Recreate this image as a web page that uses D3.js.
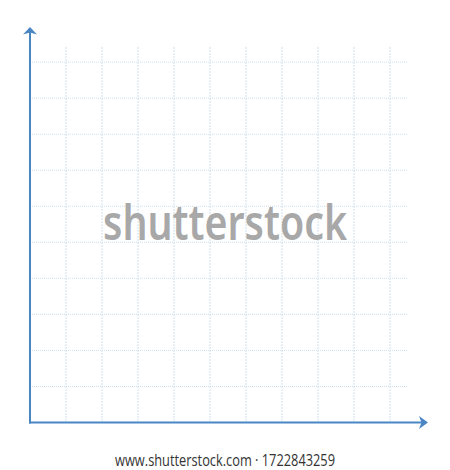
<!DOCTYPE html>
<html>
<head>
<meta charset="utf-8">
<script src="https://cdn.jsdelivr.net/npm/d3@7"></script>
<style>
  html, body { margin: 0; padding: 0; background: #fff; }
</style>
</head>
<body>
<svg id="chart" width="450" height="470"></svg>
<script>
const xTicks = [1, 2, 3, 4, 5, 6, 7, 8, 9, 10];
const yTicks = [1, 2, 3, 4, 5, 6, 7, 8, 9, 10];
const xDomain = [0, 10.5];
const yDomain = [0, 10.42];
const watermark = 'shutterstock';
const footer = 'www.shutterstock.com \u00b7 1722843259';

const svg = d3.select('#chart');
const axisColor = '#4a86c4';
const gridColor = '#cfdfee';

let x = d3.scaleLinear().domain(xDomain).range([30, 408]);
let y = d3.scaleLinear().domain(yDomain).range([422.5, 47]);

// grid
let grid = svg.append('g')
    .attr('stroke', gridColor)
    .attr('stroke-width', 1);

grid.selectAll('line.v')
    .data(xTicks)
    .join('line')
    .attr('class', 'v')
    .attr('stroke-dasharray', '2,1')
    .attr('x1', d => x(d)).attr('x2', d => x(d))
    .attr('y1', y(yDomain[1])).attr('y2', y(0));

grid.selectAll('line.h')
    .data(yTicks)
    .join('line')
    .attr('class', 'h')
    .attr('stroke-dasharray', '1,1')
    .attr('y1', d => y(d)).attr('y2', d => y(d))
    .attr('x1', x(0)).attr('x2', x(xDomain[1]));

// watermark
svg.append('text')
    .attr('x', 103)
    .attr('y', 240)
    .attr('textLength', 244)
    .attr('lengthAdjust', 'spacingAndGlyphs')
    .style('font-family', 'Noto Sans, Open Sans, sans-serif')
    .style('font-weight', 600)
    .style('font-size', '48px')
    .style('fill', '#a8a8a8')
    .text(watermark);

// axes
let ax = svg.append('g').attr('stroke', axisColor).attr('stroke-width', 2).attr('fill', 'none');
ax.append('line')
    .attr('x1', x(0)).attr('x2', x(0))
    .attr('y1', y(0) + 1).attr('y2', 32);
ax.append('line')
    .attr('x1', x(0) - 1).attr('x2', 422)
    .attr('y1', y(0)).attr('y2', y(0));

let ox = x(0), oy = y(0);
svg.append('path')
    .attr('d', `M${ox},27 L${ox + 7},34.5 L${ox},32.5 L${ox - 7},34.5 Z`)
    .attr('fill', axisColor);
svg.append('path')
    .attr('d', `M428,${oy} L419,${oy - 6.5} L421.5,${oy} L419,${oy + 6.5} Z`)
    .attr('fill', axisColor);

// footer
svg.append('text')
    .attr('x', 115)
    .attr('y', 466)
    .attr('textLength', 220)
    .attr('lengthAdjust', 'spacingAndGlyphs')
    .style('font-family', 'Open Sans, sans-serif')
    .style('font-size', '15.5px')
    .style('fill', '#333')
    .text(footer);
</script>
</body>
</html>
